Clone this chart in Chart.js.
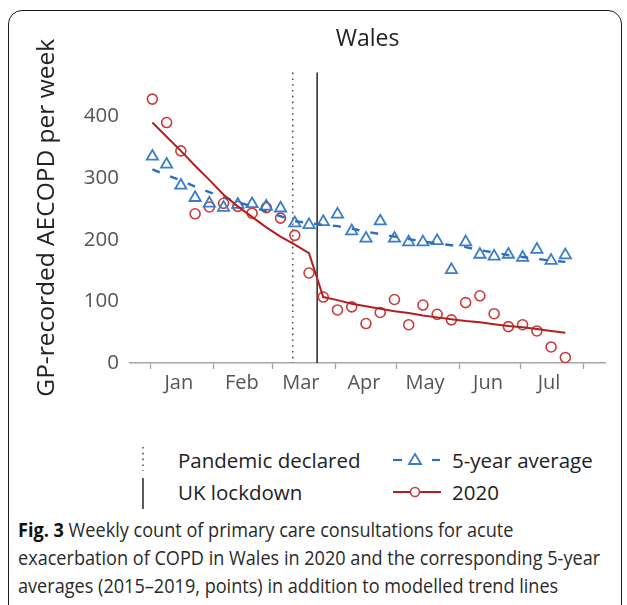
<!DOCTYPE html>
<html>
<head>
<meta charset="utf-8">
<script src="https://cdn.jsdelivr.net/npm/chart.js@4/dist/chart.umd.min.js"></script>
<style>
  html, body { margin: 0; padding: 0; background: #fff; overflow: hidden; }
  body { width: 627px; height: 605px; position: relative; font-family: "Open Sans", "Noto Sans", sans-serif; }
  #frame { position: absolute; left: 8px; top: 10px; width: 614px; height: 640px; border: 1.5px solid #1a1a1a; border-radius: 14px; box-sizing: border-box; }
  #chartBox { position: absolute; left: 0; top: 0; width: 627px; height: 420px; }
  .leg { position: absolute; font-size: 20.5px; color: #222; line-height: 24px; white-space: nowrap; }
  .key { position: absolute; }
  #caption { position: absolute; left: 18px; top: 516px; font-family: "Open Sans", "Noto Sans", sans-serif; font-size: 20px; line-height: 28px; color: #2a2a2a; transform-origin: 0 0; }
  #caption div { white-space: nowrap; }
  #caption b { color: #111; }
</style>
</head>
<body>
<div id="frame"></div>
<div id="chartBox"><canvas id="c"></canvas></div>

<!-- legend -->
<svg class="key" style="left:138px;top:444px" width="12" height="68">
  <line x1="5" y1="3" x2="5" y2="27" stroke="#555" stroke-width="1.6" stroke-dasharray="1.6 4.2"/>
  <line x1="5" y1="34" x2="5" y2="65" stroke="#333" stroke-width="1.6"/>
</svg>
<div class="leg" style="left:178px;top:448px">Pandemic declared</div>
<div class="leg" style="left:178px;top:480px">UK lockdown</div>
<svg class="key" style="left:390px;top:448px" width="54" height="56">
  <line x1="3" y1="12" x2="12" y2="12" stroke="#2f6fba" stroke-width="2.2"/>
  <line x1="42" y1="12" x2="50" y2="12" stroke="#2f6fba" stroke-width="2.2"/>
  <polygon points="25,6 31,16 19,16" fill="none" stroke="#3a7dc9" stroke-width="1.8"/>
  <line x1="3" y1="44" x2="51" y2="44" stroke="#b31f1f" stroke-width="2"/>
  <circle cx="25" cy="44" r="4.5" fill="#fff" stroke="#c83c3c" stroke-width="1.6"/>
</svg>
<div class="leg" style="left:452px;top:448px">5-year average</div>
<div class="leg" style="left:452px;top:480px">2020</div>

<div id="caption">
  <div><b>Fig. 3</b> Weekly count of primary care consultations for acute</div>
  <div id="capWide">exacerbation of COPD in Wales in 2020 and the corresponding 5-year</div>
  <div>averages (2015–2019, points) in addition to modelled trend lines</div>
</div>

<script>
// Week positions, in days since 1 January 2020
const weekDays = [1, 8, 15, 22, 29, 36, 43, 50, 57, 64, 71, 78, 85, 92, 99, 106, 113, 120, 127, 134, 141, 148, 155, 162, 169, 176, 183, 190, 197, 204];

// Weekly GP-recorded AECOPD counts
const counts2020 = [428, 390, 344, 242, 253, 259, 254, 243, 252, 235, 207, 146, 107, 86, 91, 64, 82, 103, 62, 94, 79, 70, 98, 109, 80, 59, 62, 52, 26, 9];
const avg5yr = [335, 322, 288, 268, 259, 252, 257, 258, 254, 251, 227, 224, 229, 241, 214, 202, 230, 202, 196, 196, 198, 151, 196, 176, 173, 176, 171, 184, 166, 175];

// Modelled trend lines
const trend2020 = [390, 367, 344, 320, 297, 273, 254, 237, 220, 205, 192, 178, 107, 102, 96, 92, 88, 84, 81, 77, 74, 71, 68, 66, 63, 60, 58, 55, 52, 49];
const trendAvg = [314, 305, 296, 286, 277, 269, 261, 254, 246, 238, 230, 227, 224, 222, 218, 213, 209, 205, 201, 197, 194, 191, 188, 183, 179, 175, 172, 169, 166, 164];

// Events: pandemic declared (11 Mar), UK lockdown (23 Mar)
const eventDays = [70, 82];
const eventNames = ['Pandemic declared', 'UK lockdown'];

// Axis ticks
const monthStarts = [0, 31, 60, 91, 121, 152, 182, 213];
const monthMids = [14, 45, 74, 105, 135, 166, 196];
const monthLabels = ['Jan', 'Feb', 'Mar', 'Apr', 'May', 'Jun', 'Jul'];
const yTicks = [0, 100, 200, 300, 400];

const RED_PT = '#c83c3c', RED_LINE = '#b31f1f', BLUE_PT = '#3a7dc9', BLUE_LINE = '#2f6fba';

const pts = (vals) => weekDays.map((d, i) => ({ x: d, y: vals[i] }));

// Fit the caption block to the column width
(function fitCaption() {
  const cap = document.getElementById('caption');
  const w = document.getElementById('capWide').scrollWidth;
  cap.style.transform = 'scaleX(' + (582 / w) + ')';
})();

const eventLines = {
  id: 'eventLines',
  beforeDatasetsDraw(chart) {
    const { ctx, chartArea, scales } = chart;
    eventDays.forEach((d, i) => {
      const x = scales.x.getPixelForValue(d);
      ctx.save();
      ctx.beginPath();
      if (i === 0) {
        ctx.strokeStyle = '#555';
        ctx.lineWidth = 1.6;
        ctx.setLineDash([1.6, 4.2]);
      } else {
        ctx.strokeStyle = '#333';
        ctx.lineWidth = 1.6;
      }
      ctx.moveTo(x, chartArea.top);
      ctx.lineTo(x, chartArea.bottom);
      ctx.stroke();
      ctx.restore();
    });
  }
};

new Chart(document.getElementById('c'), {
  type: 'line',
  data: {
    datasets: [
      {
        label: '2020 trend', data: pts(trend2020), borderColor: RED_LINE, borderWidth: 2,
        pointRadius: 0, fill: false, tension: 0
      },
      {
        label: '5-year average trend', data: pts(trendAvg), borderColor: BLUE_LINE, borderWidth: 2.4,
        borderDash: [8, 11], pointRadius: 0, fill: false, tension: 0
      },
      {
        label: '5-year average', data: pts(avg5yr), showLine: false, pointStyle: 'triangle',
        pointRadius: 6.5, pointBorderWidth: 1.8, pointBorderColor: BLUE_PT, pointBackgroundColor: 'rgba(0,0,0,0)'
      },
      {
        label: '2020', data: pts(counts2020), showLine: false, pointStyle: 'circle',
        pointRadius: 5, pointBorderWidth: 1.6, pointBorderColor: RED_PT, pointBackgroundColor: 'rgba(0,0,0,0)'
      }
    ]
  },
  options: {
    responsive: true,
    maintainAspectRatio: false,
    animation: false,
    layout: { padding: { left: 0, right: 22, top: 0, bottom: 0 } },
    plugins: {
      legend: { display: false },
      tooltip: { enabled: false },
      title: {
        display: true, text: 'Wales', fullSize: false, color: '#222',
        font: { family: '"Open Sans", sans-serif', size: 23, weight: 'normal' },
        padding: { top: 26, bottom: 19 }
      }
    },
    scales: {
      x: {
        type: 'linear', min: -10, max: 223.5,
        afterBuildTicks(scale) {
          scale.ticks = monthStarts.concat(monthMids).sort((a, b) => a - b).map(v => ({ value: v }));
        },
        afterFit(scale) { scale.height = 57; },
        ticks: {
          autoSkip: false, maxRotation: 0, padding: 2, color: '#555',
          font: { family: '"Open Sans", sans-serif', size: 20 },
          callback(v) {
            const i = monthMids.indexOf(v);
            return i >= 0 ? monthLabels[i] : '';
          }
        },
        grid: {
          display: true, drawOnChartArea: false, drawTicks: true, tickLength: 6, tickWidth: 1.3,
          tickColor: (ctx) => (ctx.tick && monthStarts.includes(ctx.tick.value)) ? '#a0a0a0' : 'rgba(0,0,0,0)'
        },
        border: { display: true, color: '#a6a6a6', width: 1.5 }
      },
      y: {
        type: 'linear', min: 0, max: 471,
        afterBuildTicks(scale) { scale.ticks = yTicks.map(v => ({ value: v })); },
        afterFit(scale) { scale.width = 130; },
        ticks: { padding: 11, color: '#555', font: { family: '"Open Sans", sans-serif', size: 20.5 } },
        grid: { display: false, drawTicks: false, tickLength: 0 },
        border: { display: false },
        title: {
          display: true, text: 'GP-recorded AECOPD per week', color: '#222',
          font: { family: '"Open Sans", sans-serif', size: 24.5 },
          padding: { top: 32, bottom: 0 }
        }
      }
    }
  },
  plugins: [eventLines]
});
</script>
</body>
</html>
